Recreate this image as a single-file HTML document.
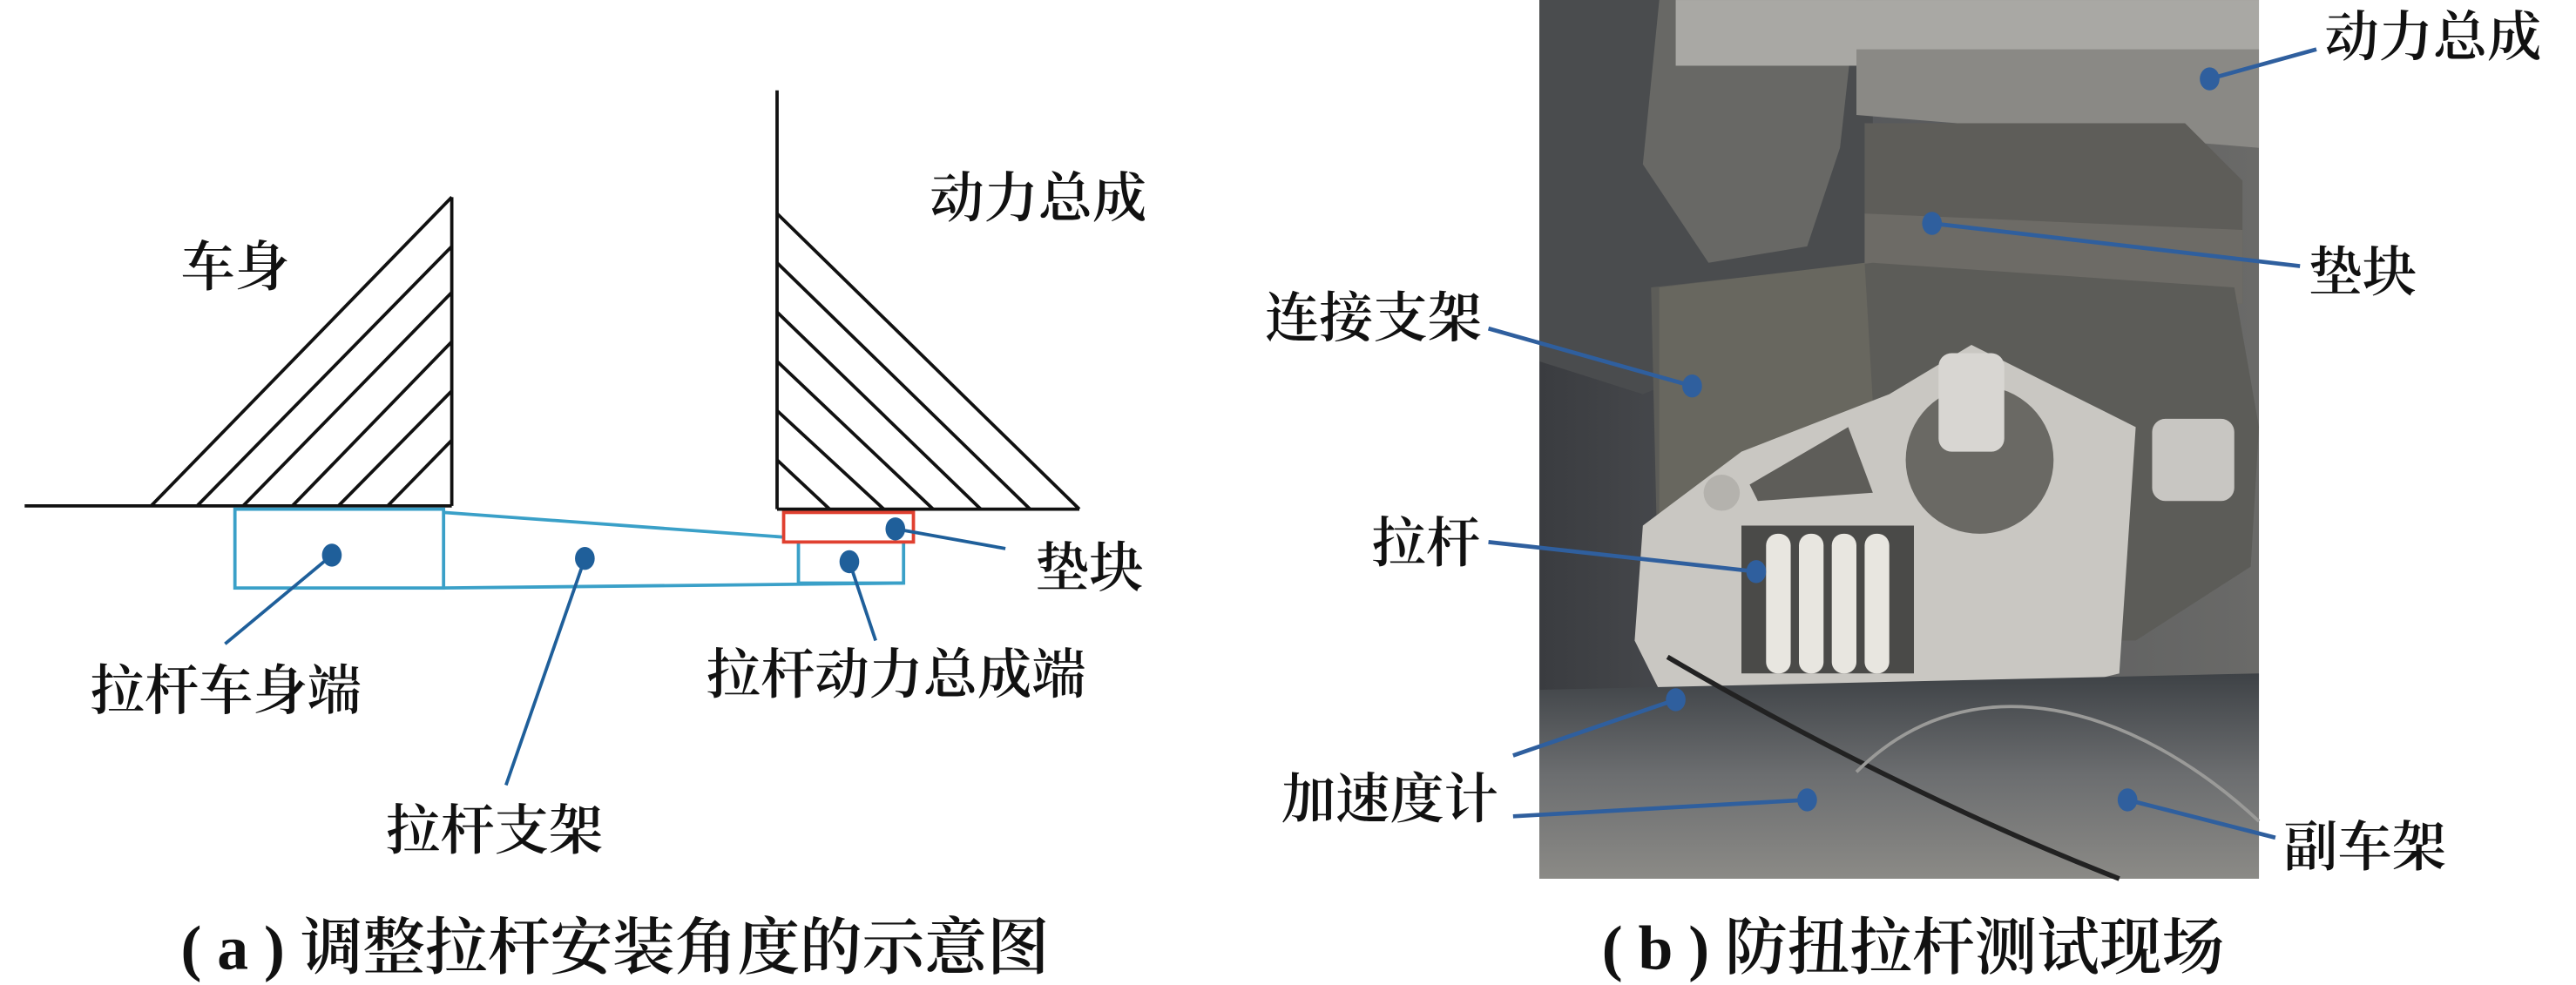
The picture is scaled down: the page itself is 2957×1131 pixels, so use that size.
<!DOCTYPE html>
<html><head><meta charset="utf-8"><style>
html,body{margin:0;padding:0;background:#fff;}
svg{display:block;}
text{font-family:"Liberation Serif","Noto Serif CJK SC","Noto Sans CJK SC",serif;fill:#111;font-weight:600;}
</style></head><body>
<svg width="2957" height="1131" viewBox="0 0 1568 599.7" xmlns="http://www.w3.org/2000/svg">
<defs>
<linearGradient id="bg" x1="0" y1="0" x2="1" y2="0">
<stop offset="0" stop-color="#3a3c40"/><stop offset="0.4" stop-color="#55575a"/><stop offset="1" stop-color="#6a6a68"/>
</linearGradient>
<linearGradient id="low" x1="0" y1="0" x2="0" y2="1">
<stop offset="0" stop-color="#3e4246"/><stop offset="0.5" stop-color="#6c6e70"/><stop offset="1" stop-color="#8b8a86"/>
</linearGradient>
</defs>
<!-- LEFT DIAGRAM -->
<g stroke="#111" stroke-width="2" fill="none">
<line x1="15" y1="308" x2="275" y2="308"/>
<line x1="275" y1="120" x2="275" y2="308"/>
<line x1="92" y1="308" x2="275" y2="120"/>
<line x1="120" y1="308" x2="275" y2="150"/>
<line x1="148" y1="308" x2="275" y2="178"/>
<line x1="178" y1="308" x2="275" y2="208"/>
<line x1="206" y1="308" x2="275" y2="238"/>
<line x1="236" y1="308" x2="275" y2="268"/>
<line x1="473" y1="55" x2="473" y2="310"/>
<line x1="473" y1="310" x2="657" y2="310"/>
<line x1="473" y1="130" x2="657" y2="310"/>
<line x1="473" y1="160" x2="627" y2="310"/>
<line x1="473" y1="190" x2="597" y2="310"/>
<line x1="473" y1="220" x2="568" y2="310"/>
<line x1="473" y1="250" x2="538" y2="310"/>
<line x1="473" y1="280" x2="505" y2="310"/>
</g>
<g stroke="#3aa0c8" stroke-width="2" fill="none">
<rect x="143" y="310" width="127" height="48"/>
<line x1="270" y1="312" x2="477" y2="327"/>
<line x1="270" y1="358" x2="550" y2="355"/>
<polyline points="486,330 486,355 550,355 550,330"/>
</g>
<rect x="477" y="312" width="79" height="18" fill="none" stroke="#e04030" stroke-width="2"/>
<g stroke="#1f5f9a" stroke-width="2">
<line x1="202" y1="338" x2="137" y2="392"/>
<line x1="356" y1="340" x2="308" y2="478"/>
<line x1="517" y1="342" x2="533" y2="390"/>
<line x1="545" y1="322" x2="612" y2="334"/>
</g>
<g fill="#1f5f9a">
<ellipse cx="202" cy="338" rx="6" ry="7"/>
<ellipse cx="356" cy="340" rx="6" ry="7"/>
<ellipse cx="517" cy="342" rx="6" ry="7"/>
<ellipse cx="545" cy="322" rx="6" ry="7"/>
</g>
<g font-size="33">
<text x="110" y="174">车身</text>
<text x="566" y="132">动力总成</text>
<text x="630" y="357">垫块</text>
<text x="55" y="432">拉杆车身端</text>
<text x="430" y="422">拉杆动力总成端</text>
<text x="235" y="517">拉杆支架</text>
</g>
<text x="110" y="590" font-size="38">( a ) 调整拉杆安装角度的示意图</text>

<!-- RIGHT PHOTO -->
<rect x="937" y="0" width="438" height="535" fill="url(#bg)"/>
<polygon points="937,0 1140,0 1140,190 1050,220 1000,240 937,220" fill="#4a4c4e"/>
<polygon points="1010,0 1130,0 1120,90 1100,150 1040,160 1000,100" fill="#6f6f6c" opacity="0.8"/>
<rect x="1020" y="0" width="355" height="40" fill="#a9a8a4"/>
<polygon points="1130,30 1375,30 1375,90 1130,70" fill="#8a8985"/>
<polygon points="1135,75 1330,75 1365,110 1365,185 1135,185" fill="#5e5d59"/>
<polygon points="1135,130 1365,140 1365,185 1135,185" fill="#6d6b66"/>
<polygon points="1005,175 1140,160 1360,175 1375,260 1370,345 1300,390 1010,390" fill="#5c5c58"/>
<polygon points="1010,175 1135,160 1140,245 1060,300 1010,330" fill="#68675f"/>
<polygon points="1000,320 1060,275 1150,240 1200,210 1250,235 1300,260 1290,410 1250,420 1010,420 995,390" fill="#c9c7c2"/>
<polygon points="1065,295 1125,260 1140,300 1070,305" fill="#5e5d59"/>
<circle cx="1205" cy="280" r="45" fill="#6a6964"/>
<circle cx="1048" cy="300" r="11" fill="#b4b2ad"/>
<rect x="1060" y="320" width="105" height="90" fill="#4a4a48"/>
<g fill="#e8e6e0"><rect x="1075" y="325" width="15" height="85" rx="7"/><rect x="1095" y="325" width="15" height="85" rx="7"/><rect x="1115" y="325" width="15" height="85" rx="7"/><rect x="1135" y="325" width="15" height="85" rx="7"/></g>
<rect x="1180" y="215" width="40" height="60" rx="8" fill="#d8d6d2"/>
<rect x="1310" y="255" width="50" height="50" rx="8" fill="#c8c6c2"/>
<polygon points="937,420 1375,410 1375,535 937,535" fill="url(#low)"/>
<path d="M1015,400 C1100,450 1200,500 1290,535" stroke="#222" stroke-width="3" fill="none"/>
<path d="M1130,470 C1200,400 1300,430 1375,500" stroke="#9a9a98" stroke-width="2" fill="none"/>
<g stroke="#2f5f9e" stroke-width="2.5">
<line x1="1410" y1="30" x2="1345" y2="48"/>
<line x1="1400" y1="162" x2="1176" y2="136"/>
<line x1="906" y1="200" x2="1030" y2="235"/>
<line x1="906" y1="330" x2="1069" y2="348"/>
<line x1="921" y1="460" x2="1020" y2="426"/>
<line x1="921" y1="497" x2="1100" y2="487"/>
<line x1="1385" y1="510" x2="1295" y2="487"/>
</g>
<g fill="#2f5f9e">
<ellipse cx="1345" cy="48" rx="6" ry="7"/>
<ellipse cx="1176" cy="136" rx="6" ry="7"/>
<ellipse cx="1030" cy="235" rx="6" ry="7"/>
<ellipse cx="1069" cy="348" rx="6" ry="7"/>
<ellipse cx="1020" cy="426" rx="6" ry="7"/>
<ellipse cx="1100" cy="487" rx="6" ry="7"/>
<ellipse cx="1295" cy="487" rx="6" ry="7"/>
</g>
<g font-size="33">
<text x="1415" y="34">动力总成</text>
<text x="1405" y="177">垫块</text>
<text x="770" y="205">连接支架</text>
<text x="835" y="342">拉杆</text>
<text x="780" y="498">加速度计</text>
<text x="1390" y="527">副车架</text>
</g>
<text x="975" y="590" font-size="38">( b ) 防扭拉杆测试现场</text>
</svg>
</body></html>
